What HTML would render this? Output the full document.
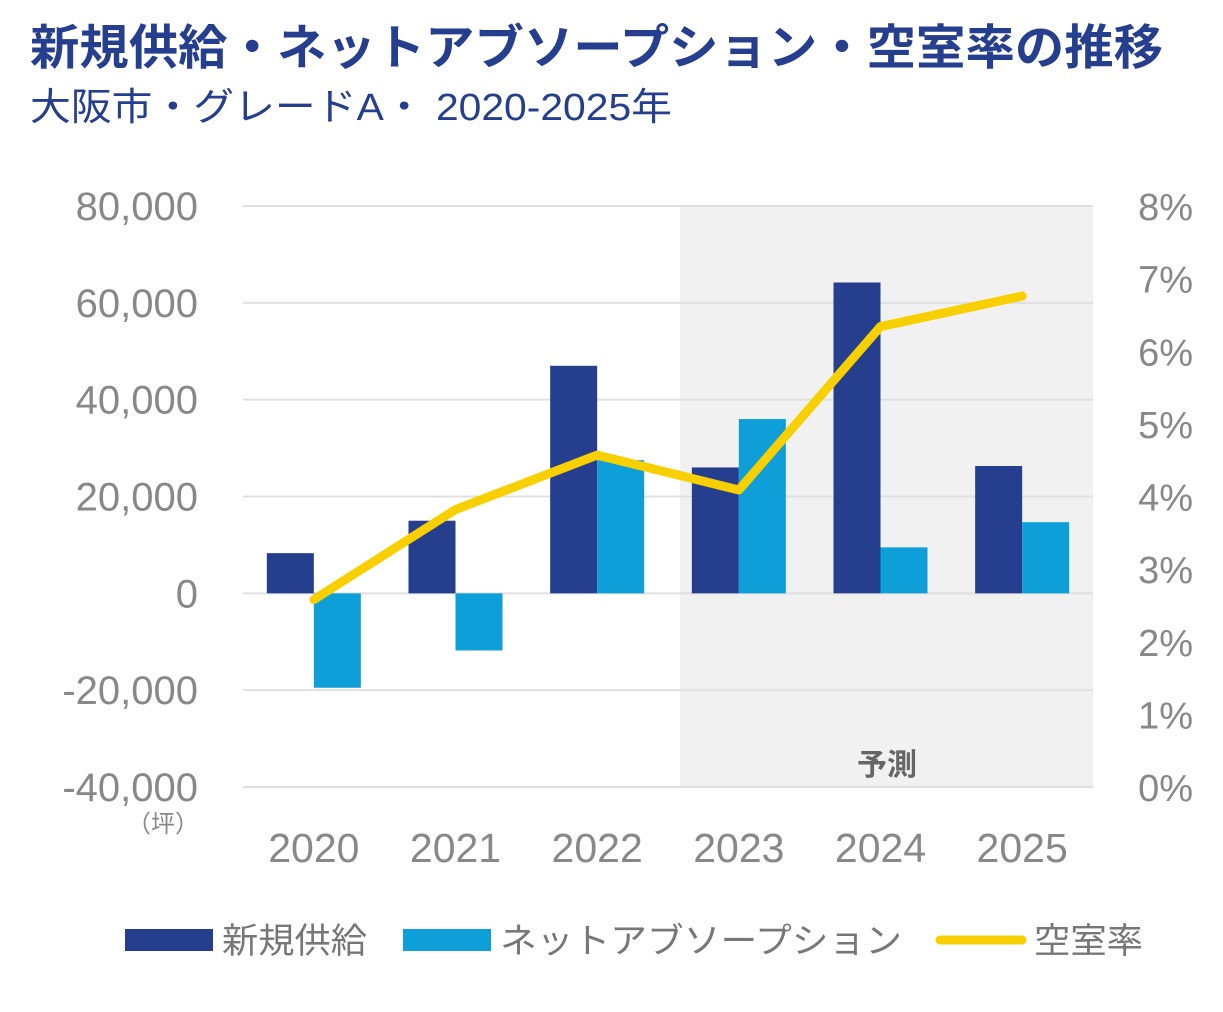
<!DOCTYPE html>
<html><head><meta charset="utf-8"><style>
body{margin:0;background:#fff;font-family:"Liberation Sans","Noto Sans CJK JP",sans-serif;}
</style></head><body>
<svg width="1223" height="1007" viewBox="0 0 1223 1007" xmlns="http://www.w3.org/2000/svg" id="chart" font-family="Liberation Sans, Noto Sans CJK JP, sans-serif">
<text x="30" y="64" font-size="48" font-weight="bold" fill="#253f8e" textLength="1133" lengthAdjust="spacingAndGlyphs">新規供給・ネットアブソープション・空室率の推移</text>
<text x="30" y="120" font-size="38" fill="#253f8e" textLength="642" lengthAdjust="spacingAndGlyphs">大阪市・グレードA・ 2020-2025年</text>
<rect x="680" y="206" width="413" height="581" fill="#f1f1f1"/>
<text x="887" y="775" font-size="30" font-weight="bold" fill="#666" text-anchor="middle">予測</text>
<g id="grid"></g><g id="bars"></g><g id="line"></g><g id="labels"></g>
<text x="163" y="832" font-size="24" fill="#888" text-anchor="middle">（坪）</text>
<g>
<rect x="125" y="929" width="88" height="22" fill="#253f8e"/>
<text x="222" y="953" font-size="35" fill="#777" textLength="145" lengthAdjust="spacingAndGlyphs">新規供給</text>
<rect x="403" y="929" width="88" height="22" fill="#0f9fd8"/>
<text x="500" y="953" font-size="35" fill="#777" textLength="402" lengthAdjust="spacingAndGlyphs">ネットアブソープション</text>
<line x1="940" y1="940" x2="1022" y2="940" stroke="#f8d000" stroke-width="9" stroke-linecap="round"/>
<text x="1034" y="953" font-size="35" fill="#777" textLength="109" lengthAdjust="spacingAndGlyphs">空室率</text>
</g>
</svg>
<script>
const categories=["2020","2021","2022","2023","2024","2025"];
const supply=[8300,15000,47000,26000,64200,26300];
const absorption=[-19500,-11800,27500,36000,9500,14700];
const vacancy=[2.58,3.82,4.57,4.09,6.34,6.76];
const leftTicks=[80000,60000,40000,20000,0,-20000,-40000];
const rightTicks=[8,7,6,5,4,3,2,1,0];
const NS="http://www.w3.org/2000/svg";
const x0=243,x1=1093,yTop=206,yBot=787;
const yL=v=>yTop+(80000-v)/120000*(yBot-yTop);
const yR=v=>yTop+(8-v)/8*(yBot-yTop);
const band=(x1-x0)/categories.length;
const cx=i=>x0+band*(i+0.5);
function mk(tag,attrs,parent){const e=document.createElementNS(NS,tag);for(const k in attrs)e.setAttribute(k,attrs[k]);document.getElementById(parent).appendChild(e);return e;}
leftTicks.forEach(t=>{
 const g=mk('line',{x1:x0,x2:x1,y1:yL(t),y2:yL(t),stroke:'#e0e0e0','stroke-width':2},'grid');
 
 
 const tx=mk('text',{x:198,y:yL(t)+14,'font-size':40,fill:'#888','text-anchor':'end'},'labels');
 tx.textContent=t.toLocaleString('en-US');
 
 
});
rightTicks.forEach(t=>{
 const tx=mk('text',{x:1193,y:yR(t)+14,'font-size':38,fill:'#888','text-anchor':'end'},'labels');
 tx.textContent=t+'%';
 
 
});
const bw=47;
categories.forEach((c,i)=>{
 const s=supply[i],a=absorption[i];
 const r1=mk('rect',{x:cx(i)-bw,y:Math.min(yL(s),yL(0)),width:bw,height:Math.abs(yL(s)-yL(0)),fill:'#253f8e'},'bars');
 
 
 const r2=mk('rect',{x:cx(i),y:Math.min(yL(a),yL(0)),width:bw,height:Math.abs(yL(a)-yL(0)),fill:'#0f9fd8'},'bars');
 
 
 const tx=mk('text',{x:cx(i),y:862,'font-size':41,fill:'#888','text-anchor':'middle'},'labels');
 tx.textContent=c;
 
 
});
const pl=mk('polyline',{points:vacancy.map((v,i)=>cx(i)+','+yR(v)).join(' '),fill:'none',stroke:'#f8d000','stroke-width':9,'stroke-linecap':'round','stroke-linejoin':'round'},'line');


</script>
</body></html>
